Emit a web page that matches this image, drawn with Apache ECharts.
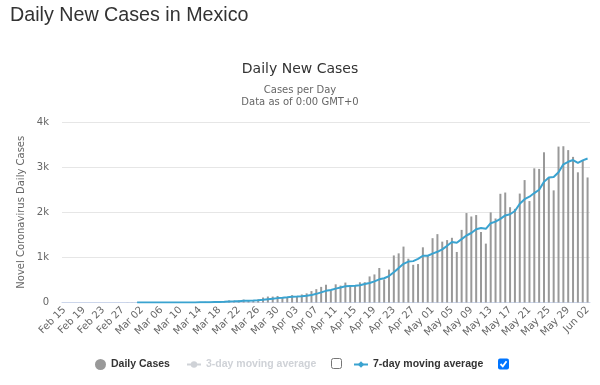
<!DOCTYPE html>
<html><head><meta charset="utf-8">
<script src="https://cdn.jsdelivr.net/npm/echarts@6/dist/echarts.min.js"></script>
<style>html,body{margin:0;padding:0;background:#fff}#c{width:600px;height:385px}</style>
</head><body><div id="c"></div>
<script>
var categories = ["Feb 15","Feb 16","Feb 17","Feb 18","Feb 19","Feb 20","Feb 21","Feb 22","Feb 23","Feb 24","Feb 25","Feb 26","Feb 27","Feb 28","Feb 29",
"Mar 01","Mar 02","Mar 03","Mar 04","Mar 05","Mar 06","Mar 07","Mar 08","Mar 09","Mar 10","Mar 11","Mar 12","Mar 13","Mar 14","Mar 15","Mar 16","Mar 17","Mar 18","Mar 19","Mar 20","Mar 21","Mar 22","Mar 23","Mar 24","Mar 25","Mar 26","Mar 27","Mar 28","Mar 29","Mar 30","Mar 31",
"Apr 01","Apr 02","Apr 03","Apr 04","Apr 05","Apr 06","Apr 07","Apr 08","Apr 09","Apr 10","Apr 11","Apr 12","Apr 13","Apr 14","Apr 15","Apr 16","Apr 17","Apr 18","Apr 19","Apr 20","Apr 21","Apr 22","Apr 23","Apr 24","Apr 25","Apr 26","Apr 27","Apr 28","Apr 29","Apr 30",
"May 01","May 02","May 03","May 04","May 05","May 06","May 07","May 08","May 09","May 10","May 11","May 12","May 13","May 14","May 15","May 16","May 17","May 18","May 19","May 20","May 21","May 22","May 23","May 24","May 25","May 26","May 27","May 28","May 29","May 30","May 31",
"Jun 01","Jun 02"];

var dailyCases = [0,0,0,0,0,0,0,0,0,0,0,0,0,2,2,
1,0,0,0,0,1,1,0,0,0,1,4,4,10,15,12,29,11,25,46,39,48,65,51,38,70,110,132,131,145,101,
121,163,132,178,202,253,296,346,396,260,403,375,442,353,385,448,450,578,622,764,511,729,1043,1089,1239,970,835,852,1223,1047,
1425,1515,1349,1383,1434,1120,1609,1982,1906,1938,1562,1305,1997,1862,2409,2437,2112,2075,2414,2713,2248,2973,2960,3329,2764,2485,3455,3463,3377,3227,2885,
3152,2771];

var movingAvg7 = [null,null,null,null,null,null,null,null,null,null,null,null,null,null,null,
1,1,1,1,1,1,0,0,0,0,0,1,1,3,5,7,11,12,15,21,25,30,38,41,45,51,60,73,85,97,104,
116,129,132,139,149,164,192,224,258,276,308,333,360,368,373,381,408,433,468,514,537,586,671,762,857,906,917,965,1036,1036,
1084,1124,1178,1256,1339,1325,1405,1485,1540,1625,1650,1632,1757,1793,1854,1930,1955,2028,2187,2289,2344,2425,2499,2673,2772,2782,2888,3061,3119,3157,3094,
3149,3190];

var movingAvg3 = [];

var yTicks = ["0","1k","2k","3k","4k"];

var chart = echarts.init(document.getElementById('c'), null, {renderer:'canvas'});
var legendText = {fontFamily:'Liberation Sans, Arial, sans-serif', fontSize:10.5, fontWeight:'bold', color:'#333'};
chart.setOption({
  animation:false,
  backgroundColor:'#fff',
  title:[
    {text:'Daily New Cases in Mexico', left:5, top:1, textStyle:{fontFamily:'Liberation Sans, Arial, sans-serif', fontSize:19.7, fontWeight:'normal', color:'#333'}},
    {text:'Daily New Cases', left:'center', top:57, textStyle:{fontFamily:'DejaVu Sans, sans-serif', fontSize:14, fontWeight:'normal', color:'#333'}},
    {text:'Cases per Day', left:'center', top:80, textStyle:{fontFamily:'DejaVu Sans, sans-serif', fontSize:10, fontWeight:'normal', color:'#666'}},
    {text:'Data as of 0:00 GMT+0', left:'center', top:92.5, textStyle:{fontFamily:'DejaVu Sans, sans-serif', fontSize:10, fontWeight:'normal', color:'#666'}}
  ],
  grid:{left:62, right:10, top:122, bottom:82.5, containLabel:false},
  legend:[
    {data:['Daily Cases'], left:90, top:354, icon:'circle', itemWidth:11, itemHeight:11, textStyle:legendText},
    {data:['3-day moving average'], left:181, top:354, itemWidth:14, itemHeight:8, textStyle:legendText, selected:{'3-day moving average':false}},
    {data:['7-day moving average'], left:348, top:354, itemWidth:14, itemHeight:8, textStyle:legendText}
  ],
  xAxis:{type:'category', data:categories, boundaryGap:true,
    axisLine:{lineStyle:{color:'#ccd6eb'}}, axisTick:{show:false},
    axisLabel:{interval:3, rotate:45, fontSize:10, color:'#666', fontFamily:'DejaVu Sans, sans-serif', margin:6}},
  yAxis:{type:'value', min:0, max:4000, interval:1000,
    name:'Novel Coronavirus Daily Cases', nameLocation:'middle', nameGap:34, nameRotate:90,
    nameTextStyle:{fontSize:10, color:'#666', fontFamily:'DejaVu Sans, sans-serif'},
    axisLabel:{formatter:function(v){return yTicks[v/1000];}, fontSize:10, color:'#666', fontFamily:'DejaVu Sans, sans-serif', margin:13},
    splitLine:{lineStyle:{color:'#e6e6e6'}}, axisLine:{show:false}, axisTick:{show:false}},
  series:[
    {name:'Daily Cases', type:'bar', data:dailyCases, barWidth:2, itemStyle:{color:'#999999'}},
    {name:'3-day moving average', type:'line', data:movingAvg3, symbol:'circle', symbolSize:6, showSymbol:false, itemStyle:{color:'#999'}},
    {name:'7-day moving average', type:'line', data:movingAvg7, symbol:'diamond', symbolSize:7, showSymbol:false, lineStyle:{width:2, color:'#3aa3d0'}, itemStyle:{color:'#3aa3d0'}, connectNulls:false}
  ],
  graphic:[
    {type:'rect', shape:{x:331.5, y:358.5, width:10, height:10, r:2}, style:{fill:'#fff', stroke:'#767676', lineWidth:1}},
    {type:'rect', shape:{x:498, y:358.5, width:11, height:11, r:2}, style:{fill:'#0075ff'}},
    {type:'polyline', shape:{points:[[500.5,364],[502.8,366.3],[506.5,361.3]]}, style:{stroke:'#fff', lineWidth:1.8, fill:null}}
  ]
});
</script></body></html>
